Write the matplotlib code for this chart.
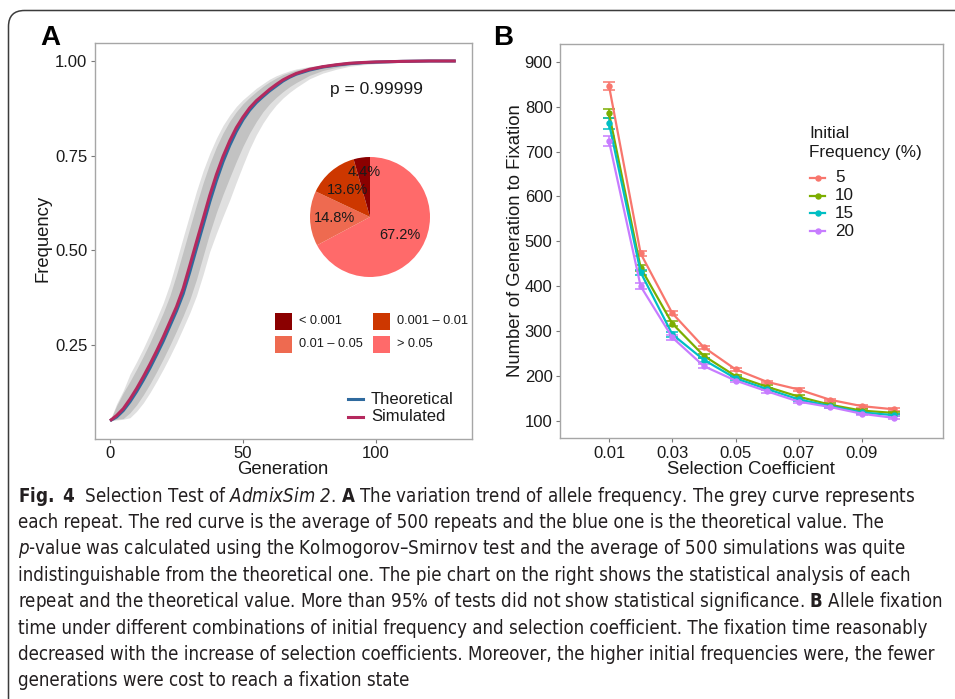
import matplotlib
matplotlib.use("Agg")
import matplotlib.pyplot as plt
from matplotlib import font_manager
from matplotlib.font_manager import findfont
from matplotlib.patches import FancyBboxPatch, Rectangle
from matplotlib.lines import Line2D
from matplotlib.transforms import IdentityTransform

# ---------------- data ----------------
# Panel A: allele frequency trajectories
generation = [0, 2.5, 5, 7.5, 10, 12.5, 15, 17.5, 20, 22.5, 25, 27.5, 30, 32.5, 35, 37.5, 40, 42.5, 45,
              47.5, 50, 52.5, 55, 57.5, 60, 62.5, 65, 67.5, 70, 75, 80, 85, 90, 95, 100, 110, 120, 130]
simulated = [0.050, 0.064, 0.082, 0.107, 0.135, 0.166, 0.199, 0.234, 0.271, 0.311, 0.351, 0.399, 0.460,
             0.522, 0.583, 0.645, 0.700, 0.748, 0.789, 0.824, 0.852, 0.876, 0.895, 0.910, 0.925, 0.938,
             0.950, 0.959, 0.967, 0.978, 0.985, 0.990, 0.994, 0.996, 0.9975, 0.999, 1.000, 1.000]
theoretical = [0.050, 0.060, 0.077, 0.100, 0.127, 0.157, 0.189, 0.224, 0.260, 0.300, 0.340, 0.385, 0.443,
               0.505, 0.566, 0.628, 0.684, 0.734, 0.777, 0.814, 0.845, 0.870, 0.890, 0.906, 0.921, 0.934,
               0.947, 0.957, 0.965, 0.976, 0.984, 0.989, 0.993, 0.9955, 0.997, 0.999, 1.000, 1.000]
# spread of the 500 grey repeats (dense core and faint outer envelope)
repeat_core_low = [0.050, 0.054, 0.056, 0.071, 0.092, 0.118, 0.147, 0.179, 0.213, 0.249, 0.287, 0.327,
                   0.370, 0.423, 0.485, 0.546, 0.600, 0.648, 0.692, 0.735, 0.775, 0.810, 0.840, 0.866,
                   0.887, 0.904, 0.919, 0.932, 0.943, 0.962, 0.975, 0.983, 0.989, 0.993, 0.9955, 0.998,
                   0.9995, 1.000]
repeat_core_high = [0.050, 0.090, 0.124, 0.154, 0.186, 0.220, 0.256, 0.295, 0.335, 0.380, 0.436, 0.497,
                    0.559, 0.620, 0.678, 0.729, 0.773, 0.810, 0.841, 0.866, 0.887, 0.904, 0.919, 0.933,
                    0.945, 0.955, 0.964, 0.970, 0.976, 0.984, 0.989, 0.993, 0.9956, 0.997, 0.998, 0.9995,
                    1.000, 1.000]
repeat_outer_low = [0.050, 0.052, 0.054, 0.058, 0.075, 0.097, 0.124, 0.154, 0.186, 0.220, 0.256, 0.295,
                    0.335, 0.380, 0.436, 0.497, 0.545, 0.590, 0.633, 0.680, 0.725, 0.768, 0.805, 0.836,
                    0.862, 0.884, 0.902, 0.917, 0.930, 0.953, 0.968, 0.978, 0.986, 0.990, 0.993, 0.997,
                    0.999, 1.000]
repeat_outer_high = [0.050, 0.095, 0.130, 0.173, 0.206, 0.241, 0.279, 0.319, 0.361, 0.411, 0.472, 0.534,
                     0.595, 0.656, 0.710, 0.756, 0.796, 0.830, 0.857, 0.880, 0.898, 0.913, 0.928, 0.940,
                     0.952, 0.961, 0.968, 0.974, 0.979, 0.9855, 0.990, 0.9935, 0.9958, 0.9972, 0.9985,
                     1.000, 1.000, 1.000]
p_value_label = "p = 0.99999"

# Pie: share of repeats per p-value class (clockwise from 12 o'clock)
pie_classes = ["> 0.05", "0.01 – 0.05", "0.001 – 0.01", "< 0.001"]
pie_shares = [67.2, 14.8, 13.6, 4.4]
pie_colors = ["#FF6A6A", "#EE6A50", "#CD3700", "#8B0000"]
pie_legend_order = ["< 0.001", "0.001 – 0.01", "0.01 – 0.05", "> 0.05"]

# Panel B: generations to fixation
selection_coef = [0.01, 0.02, 0.03, 0.04, 0.05, 0.06, 0.07, 0.08, 0.09, 0.10]
initial_freq = ["5", "10", "15", "20"]
fix_5 = [846, 473, 340, 264, 215, 187, 170, 147, 133, 126]
fix_10 = [785, 441, 317, 245, 200, 176, 154, 136, 123, 118]
fix_15 = [763, 431, 293, 236, 195, 171, 148, 133, 119, 113]
fix_20 = [723, 400, 286, 222, 190, 166, 143, 131, 116, 107]
err_5 = [9, 6, 5, 4, 3, 3, 3, 3, 3, 3]
err_10 = [10, 6, 5, 4, 3, 3, 3, 3, 3, 3]
err_15 = [12, 6, 5, 4, 3, 3, 3, 3, 3, 3]
err_20 = [11, 7, 5, 4, 3, 3, 3, 3, 3, 3]
freq_colors = ["#F8766D", "#7CAE00", "#00BFC4", "#C77CFF"]

# caption, with mathtext only used for the bold / italic run-ins
caption_lines = [
    r"$\mathbf{Fig.\ 4}$  Selection Test of $\mathsf{AdmixSim\ 2}$. $\mathbf{A}$ The variation trend of allele frequency. The grey curve represents",
    "each repeat. The red curve is the average of 500 repeats and the blue one is the theoretical value. The",
    r"$\mathsf{p}$-value was calculated using the Kolmogorov–Smirnov test and the average of 500 simulations was quite",
    "indistinguishable from the theoretical one. The pie chart on the right shows the statistical analysis of each",
    r"repeat and the theoretical value. More than 95% of tests did not show statistical significance. $\mathbf{B}$ Allele fixation",
    "time under different combinations of initial frequency and selection coefficient. The fixation time reasonably",
    "decreased with the increase of selection coefficients. Moreover, the higher initial frequencies were, the fewer",
    "generations were cost to reach a fixation state",
]

# ---------------- fonts ----------------
def has_font(name):
    try:
        font_manager.findfont(font_manager.FontProperties(family=name), fallback_to_default=False)
        return True
    except Exception:
        return False

SANS = "Liberation Sans" if has_font("Liberation Sans") else "DejaVu Sans"

def pick_caption_font():
    for fam in ["Liberation Sans Narrow", "DejaVu Sans Condensed"]:
        if has_font(fam):
            return fam, "normal"
    for fam in ["DejaVu Sans", "Noto Sans", "Open Sans"]:
        try:
            path = findfont(font_manager.FontProperties(family=fam, stretch="condensed"),
                            fallback_to_default=False)
            if "ondensed" in path or "arrow" in path:
                return fam, "condensed"
        except Exception:
            pass
    return SANS, "normal"

CAP, CAP_STRETCH = pick_caption_font()
plt.rcParams["font.family"] = [SANS, "DejaVu Sans"]
_suffix = ":stretch=condensed" if CAP_STRETCH == "condensed" else ""
plt.rcParams["mathtext.fontset"] = "custom"
plt.rcParams["mathtext.rm"] = CAP + _suffix
plt.rcParams["mathtext.it"] = CAP + ":italic" + _suffix
plt.rcParams["mathtext.sf"] = CAP + ":italic" + _suffix   # italic run-ins, digits included
plt.rcParams["mathtext.bf"] = CAP + ":bold" + _suffix

W, H, DPI = 955, 699, 100
fig = plt.figure(figsize=(W / DPI, H / DPI), dpi=DPI)
fig.patch.set_facecolor("white")

def fx(x):
    return x / W

def fy(y):
    return 1 - y / H

# rounded frame
frame = FancyBboxPatch((8.5, -30), 1000, H - 10.5 + 30, boxstyle="round,pad=0,rounding_size=16",
                       transform=IdentityTransform(), fill=False, edgecolor="#3c3c3c", linewidth=1.1)
fig.patches.append(frame)

TICK_C = "#7a7a7a"
SPINE_C = "#a6a6a6"
TXT_C = "#1a1a1a"

def style_axes(ax):
    for s in ax.spines.values():
        s.set_color(SPINE_C)
        s.set_linewidth(1.0)
    ax.tick_params(axis="both", length=3.2, width=0.8, color=TICK_C, labelsize=12, labelcolor=TXT_C, pad=2.2)

# ---------------- Panel A ----------------
axA = fig.add_axes([fx(95), fy(439), (472 - 95) / W, (439 - 43) / H])
style_axes(axA)
axA.fill_between(generation, repeat_outer_low, repeat_outer_high, color="#e0e0e0", linewidth=0)
axA.fill_between(generation, repeat_core_low, repeat_core_high, color="#c2c2c2", linewidth=0)
axA.plot(generation, theoretical, color="#2F6A9E", linewidth=2.2, solid_capstyle="butt")
axA.plot(generation, simulated, color="#B5295E", linewidth=2.2, solid_capstyle="butt")
axA.set_xlim(-5.64, 136.1)
axA.set_ylim(0.0018, 1.0475)
axA.set_xticks([0, 50, 100])
axA.set_yticks([0.25, 0.50, 0.75, 1.00])
axA.set_yticklabels(["0.25", "0.50", "0.75", "1.00"])
axA.set_xlabel("Generation", fontsize=13.3, color=TXT_C)
axA.set_ylabel("Frequency", fontsize=13.3, color=TXT_C, va="center")
axA.xaxis.set_label_coords((283 - 95) / 377, -(469 - 439) / 396)
axA.yaxis.set_label_coords(-(95 - 43) / 377, (439 - 238) / 396)
axA.xaxis.label.set_va("center")
axA.text(100, 0.926, p_value_label, fontsize=12.5, ha="center", va="center", color=TXT_C)

# pie inset
axP = fig.add_axes([fx(310), fy(277), 120 / W, 120 / H])
wedges, _, autotexts = axP.pie(pie_shares, colors=pie_colors, startangle=90, counterclock=False,
                               radius=1.0, autopct="%.1f%%", pctdistance=0.59,
                               wedgeprops=dict(linewidth=0), textprops=dict(fontsize=10.5, color=TXT_C))
axP.set_xlim(-1, 1)
axP.set_ylim(-1, 1)
axP.set_aspect("equal")
axP.axis("off")
for t in autotexts:
    if t.get_text() == "4.4%":
        x0, y0 = t.get_position()
        t.set_position((x0 / 0.59 * 0.76, y0 / 0.59 * 0.76))

# pie legend (2 x 2)
col_x = [275, 373]
row_y = [321, 344]
for i, lab in enumerate(pie_legend_order):
    r, c = divmod(i, 2)
    color = pie_colors[pie_classes.index(lab)]
    fig.patches.append(Rectangle((fx(col_x[c]), fy(row_y[r] + 8.5)), 17 / W, 17 / H, transform=fig.transFigure,
                                 facecolor=color, edgecolor="none"))
    fig.text(fx(col_x[c] + 24), fy(row_y[r]), lab, fontsize=9.2, ha="left", va="center", color=TXT_C)

# line legend
for lab, col, yy in [("Theoretical", "#2F6A9E", 399), ("Simulated", "#B5295E", 417)]:
    fig.lines.append(Line2D([fx(348), fx(363)], [fy(yy), fy(yy)], transform=fig.transFigure, color=col, linewidth=2.2))
    fig.text(fx(371), fy(yy), lab, fontsize=12, ha="left", va="center", color=TXT_C)

# ---------------- Panel B ----------------
axB = fig.add_axes([fx(560), fy(438), (943 - 560) / W, (438 - 44) / H])
style_axes(axB)
series = [(fix_5, err_5), (fix_10, err_10), (fix_15, err_15), (fix_20, err_20)]
for (vals, errs), col in zip(series, freq_colors):
    axB.errorbar(selection_coef, vals, yerr=errs, color=col, linewidth=1.6, marker="o", markersize=3.6,
                 capsize=4.0, capthick=1.1, elinewidth=1.1)
axB.set_xlim(-0.0055, 0.1156)
axB.set_ylim(62.1, 939.4)
axB.set_xticks([0.01, 0.03, 0.05, 0.07, 0.09])
axB.set_xticklabels(["0.01", "0.03", "0.05", "0.07", "0.09"])
axB.set_yticks(list(range(100, 1000, 100)))
axB.set_xlabel("Selection Coefficient", fontsize=13.3, color=TXT_C)
axB.set_ylabel("Number of Generation to Fixation", fontsize=13.3, color=TXT_C, va="center")
axB.xaxis.set_label_coords((751 - 560) / 383, -(469 - 438) / 394)
axB.xaxis.label.set_va("center")
axB.yaxis.set_label_coords(-(560 - 515) / 383, (438 - 241) / 394)

# legend of panel B
fig.text(fx(809), fy(133), "Initial", fontsize=12.3, ha="left", va="center", color=TXT_C)
fig.text(fx(809), fy(152), "Frequency (%)", fontsize=12.3, ha="left", va="center", color=TXT_C)
for lab, col, yy in zip(initial_freq, freq_colors, [178, 195.7, 213.3, 231.3]):
    fig.lines.append(Line2D([fx(810), fx(825)], [fy(yy), fy(yy)], transform=fig.transFigure, color=col, linewidth=1.6))
    fig.lines.append(Line2D([fx(817.5)], [fy(yy)], transform=fig.transFigure, color=col, marker="o", markersize=3.6))
    fig.text(fx(835), fy(yy), lab, fontsize=12.3, ha="left", va="center", color=TXT_C)

# panel tags
fig.text(fx(40), fy(38), "A", fontsize=20, fontweight="bold", ha="left", va="center", color="black")
fig.text(fx(493), fy(38), "B", fontsize=20, fontweight="bold", ha="left", va="center", color="black")

# ---------------- caption ----------------
cap_fp = font_manager.FontProperties(family=[CAP, "DejaVu Sans"], stretch=CAP_STRETCH, size=12.0)
fig.canvas.draw()
renderer = fig.canvas.get_renderer()
probe = fig.text(0, 0, caption_lines[4], fontproperties=cap_fp)
w5 = probe.get_window_extent(renderer).width
probe.remove()
cap_fp.set_size(12.0 * 921.0 / w5)

x0 = 18.0
y_first = 501.5
spacing = 26.4
for i, line in enumerate(caption_lines):
    fig.text(fx(x0), fy(y_first + i * spacing), line, fontproperties=cap_fp,
             ha="left", va="baseline", color="#231f20")

fig.savefig("out.png", dpi=DPI, facecolor="white")
